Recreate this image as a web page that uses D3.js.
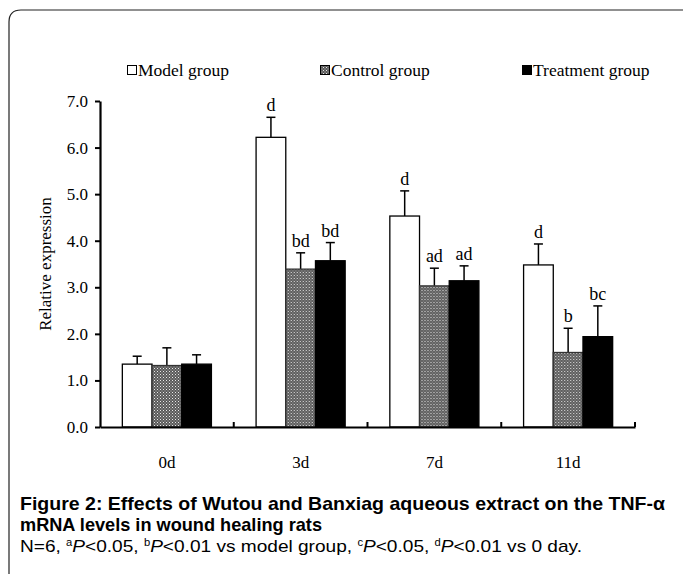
<!DOCTYPE html>
<html>
<head>
<meta charset="utf-8">
<script src="https://cdn.jsdelivr.net/npm/d3@7"></script>
<style>
  body { margin: 0; background: #fff; }
  svg text { fill: #000; }
</style>
</head>
<body>
<svg width="683" height="574"></svg>
<script>
// chart data
var days = ['0d', '3d', '7d', '11d'];
var groups = ['Model group', 'Control group', 'Treatment group'];
var modelVals = [1.35, 6.22, 4.53, 3.48];
var controlVals = [1.32, 3.39, 3.03, 1.60];
var treatVals = [1.35, 3.57, 3.14, 1.94];
var modelErr = [0.17, 0.43, 0.54, 0.45];
var controlErr = [0.38, 0.35, 0.38, 0.52];
var treatErr = [0.20, 0.39, 0.32, 0.66];
var modelSig = ['', 'd', 'd', 'd'];
var controlSig = ['', 'bd', 'ad', 'b'];
var treatSig = ['', 'bd', 'ad', 'bc'];
var yTicks = [0, 1, 2, 3, 4, 5, 6, 7];

var SERIF = '"Liberation Serif", "Times New Roman", serif';
var SANS = '"Liberation Sans", Arial, sans-serif';

var svg = d3.select('svg');
var margin = {top: 101, left: 100};
var width = 535, height = 326;

// hatched fill for control group
var defs = svg.append('defs');
var pat = defs.append('pattern')
    .attr('id', 'dots')
    .attr('width', 3).attr('height', 3)
    .attr('patternUnits', 'userSpaceOnUse');
pat.append('rect').attr('width', 3).attr('height', 3).attr('fill', '#5a5a5a');
pat.append('rect').attr('x', 0).attr('y', 0).attr('width', 1).attr('height', 1).attr('fill', '#e8e8e8');
pat.append('rect').attr('x', 1.5).attr('y', 1.5).attr('width', 1).attr('height', 1).attr('fill', '#bdbdbd');

var fills = ['#fff', 'url(#dots)', '#000'];
var vals = [modelVals, controlVals, treatVals];
var errs = [modelErr, controlErr, treatErr];
var sigs = [modelSig, controlSig, treatSig];

// frame (top + left with rounded corner)
svg.append('path')
  .attr('d', 'M9,574 L9,22 Q9,10 21,10 L683,10')
  .attr('fill', 'none')
  .attr('stroke', '#222')
  .attr('stroke-width', 1.2);

var g = svg.append('g')
  .attr('transform', 'translate(' + margin.left + ',' + margin.top + ')');

var x0 = d3.scaleBand().domain(days).range([0, width]).paddingInner(0).paddingOuter(0);
var x1 = d3.scaleBand().domain(d3.range(3)).range([x0.bandwidth() * 0.167, x0.bandwidth() * 0.833]);
var y = d3.scaleLinear().domain([0, 7]).range([height, 0]);

// bars
days.forEach(function(day, i) {
  var cg = g.append('g').attr('transform', 'translate(' + x0(day) + ',0)');
  for (var s = 0; s < 3; s++) {
    var v = vals[s][i], e = errs[s][i];
    var cx = x1(s) + x1.bandwidth() / 2;
    // error bar
    cg.append('line')
      .attr('x1', cx).attr('x2', cx)
      .attr('y1', y(v)).attr('y2', y(v + e))
      .attr('stroke', '#000').attr('stroke-width', 1.5);
    cg.append('line')
      .attr('x1', cx - 4.5).attr('x2', cx + 4.5)
      .attr('y1', y(v + e)).attr('y2', y(v + e))
      .attr('stroke', '#000').attr('stroke-width', 1.5);
    cg.append('rect')
      .attr('x', x1(s)).attr('y', y(v))
      .attr('width', x1.bandwidth()).attr('height', height - y(v))
      .attr('fill', fills[s])
      .attr('stroke', s === 1 ? '#333' : '#000')
      .attr('stroke-width', 1.3);
    if (sigs[s][i]) {
      cg.append('text')
        .attr('x', cx).attr('y', y(v + e) - 6)
        .attr('text-anchor', 'middle')
        .style('font-family', SERIF)
        .style('font-size', '18px')
        .text(sigs[s][i]);
    }
  }
});

// y axis
var yAxis = g.append('g')
  .call(d3.axisLeft(y).tickValues(yTicks).tickFormat(d3.format('.1f')).tickSize(5).tickSizeOuter(0));
yAxis.attr('font-family', SERIF);
yAxis.select('.domain').attr('stroke-width', 2.2);
yAxis.selectAll('.tick line').attr('stroke-width', 2);
yAxis.selectAll('text').style('font-family', SERIF).style('font-size', '17px').attr('x', -12);

// x axis
var xAxis = g.append('g')
  .attr('transform', 'translate(0,' + height + ')')
  .call(d3.axisBottom(x0).tickSize(0).tickSizeOuter(0));
xAxis.attr('font-family', SERIF);
xAxis.select('.domain').attr('stroke-width', 2.2);
xAxis.selectAll('text').style('font-family', SERIF).style('font-size', '17px').attr('y', 29);
// small upward ticks at category boundaries
var bounds = days.map(function(d) { return x0(d) + x0.bandwidth(); });
g.selectAll('.bnd').data(bounds).enter().append('line')
  .attr('x1', function(d) { return d; }).attr('x2', function(d) { return d; })
  .attr('y1', height).attr('y2', height - 5)
  .attr('stroke', '#000').attr('stroke-width', 2);

// y title
svg.append('text')
  .attr('transform', 'translate(51,' + (margin.top + height / 2) + ') rotate(-90)')
  .attr('text-anchor', 'middle')
  .style('font-family', SERIF)
  .style('font-size', '17px')
  .text('Relative expression');

// legend
var legX = [127, 320, 522];
groups.forEach(function(name, i) {
  var lg = svg.append('g').attr('transform', 'translate(' + legX[i] + ',64)');
  lg.append('rect').attr('x', 0.5).attr('y', 1.5).attr('width', 9).attr('height', 9)
    .attr('fill', fills[i]).attr('stroke', '#000').attr('stroke-width', 1);
  lg.append('text').attr('x', 11).attr('y', 12)
    .style('font-family', SERIF)
    .style('font-size', '17.5px').text(name);
});

// caption
var cap = svg.append('g').style('font-family', SANS);
cap.append('text').attr('x', 20).attr('y', 510)
  .attr('textLength', 645).attr('lengthAdjust', 'spacingAndGlyphs')
  .style('font-size', '19px').style('font-weight', 'bold')
  .text('Figure 2: Effects of Wutou and Banxiag aqueous extract on the TNF-\u03b1');
cap.append('text').attr('x', 20).attr('y', 531)
  .attr('textLength', 302).attr('lengthAdjust', 'spacingAndGlyphs')
  .style('font-size', '19px').style('font-weight', 'bold')
  .text('mRNA levels in wound healing rats');
var note = cap.append('text').attr('x', 20).attr('y', 552)
  .attr('textLength', 562).attr('lengthAdjust', 'spacingAndGlyphs')
  .style('font-size', '17px');
var parts = [['N=6, '], ['a', 'sup'], ['P', 'i'], ['<0.05, '], ['b', 'sup'], ['P', 'i'],
  ['<0.01 vs model group, '], ['c', 'sup'], ['P', 'i'], ['<0.05, '], ['d', 'sup'], ['P', 'i'], ['<0.01 vs 0 day.']];
parts.forEach(function(p) {
  var t = note.append('tspan').text(p[0]);
  if (p[1] === 'sup') t.style('font-size', '10px').attr('dy', -6);
  if (p[1] === 'i') t.style('font-style', 'italic').attr('dy', 6);
});
</script>
</body>
</html>
